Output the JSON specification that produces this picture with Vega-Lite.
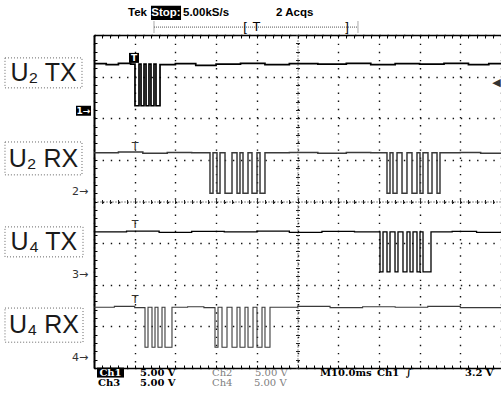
{
  "$schema": "https://vega.github.io/schema/vega-lite/v6.json",
  "width": 407,
  "height": 333,
  "autosize": {"type": "none"},
  "padding": {"left": 94, "top": 35, "right": 0, "bottom": 25},
  "background": "white",
  "config": {
    "view": {"stroke": null},
    "axis": {"labels": false, "title": null, "grid": false, "domain": false, "ticks": false}
  },
  "resolve": {"axis": {"x": "independent", "y": "independent"}},
  "datasets": {
    "traces": [
      {"ch": "U2 TX", "t": 0, "v": 3.31}, {"ch": "U2 TX", "t": 3, "v": 3.29}, {"ch": "U2 TX", "t": 6, "v": 3.32}, {"ch": "U2 TX", "t": 9, "v": 3.3},
      {"ch": "U2 TX", "t": 10.07, "v": 2.3}, {"ch": "U2 TX", "t": 11.06, "v": 3.3}, {"ch": "U2 TX", "t": 11.55, "v": 2.3}, {"ch": "U2 TX", "t": 12.29, "v": 3.3},
      {"ch": "U2 TX", "t": 12.78, "v": 2.3}, {"ch": "U2 TX", "t": 13.51, "v": 3.3}, {"ch": "U2 TX", "t": 14.0, "v": 2.3}, {"ch": "U2 TX", "t": 14.74, "v": 3.3},
      {"ch": "U2 TX", "t": 15.23, "v": 2.3}, {"ch": "U2 TX", "t": 16.22, "v": 3.29}, {"ch": "U2 TX", "t": 20, "v": 3.31}, {"ch": "U2 TX", "t": 25, "v": 3.27},
      {"ch": "U2 TX", "t": 30, "v": 3.3}, {"ch": "U2 TX", "t": 36, "v": 3.32}, {"ch": "U2 TX", "t": 42, "v": 3.29}, {"ch": "U2 TX", "t": 48, "v": 3.31},
      {"ch": "U2 TX", "t": 55, "v": 3.3}, {"ch": "U2 TX", "t": 62, "v": 3.32}, {"ch": "U2 TX", "t": 68, "v": 3.29}, {"ch": "U2 TX", "t": 74, "v": 3.31},
      {"ch": "U2 TX", "t": 80, "v": 3.3}, {"ch": "U2 TX", "t": 86, "v": 3.32}, {"ch": "U2 TX", "t": 92, "v": 3.29}, {"ch": "U2 TX", "t": 97, "v": 3.31}, {"ch": "U2 TX", "t": 100, "v": 3.3},

      {"ch": "U2 RX", "t": 0, "v": 1.17}, {"ch": "U2 RX", "t": 6, "v": 1.19}, {"ch": "U2 RX", "t": 12, "v": 1.16}, {"ch": "U2 RX", "t": 18, "v": 1.18}, {"ch": "U2 RX", "t": 24, "v": 1.17},
      {"ch": "U2 RX", "t": 28.5, "v": 0.2}, {"ch": "U2 RX", "t": 29.24, "v": 1.17}, {"ch": "U2 RX", "t": 30.22, "v": 0.2}, {"ch": "U2 RX", "t": 30.96, "v": 1.17},
      {"ch": "U2 RX", "t": 32.19, "v": 0.2}, {"ch": "U2 RX", "t": 33.91, "v": 1.17}, {"ch": "U2 RX", "t": 35.14, "v": 0.2}, {"ch": "U2 RX", "t": 35.87, "v": 1.17},
      {"ch": "U2 RX", "t": 36.61, "v": 0.2}, {"ch": "U2 RX", "t": 37.84, "v": 1.17}, {"ch": "U2 RX", "t": 38.82, "v": 0.2}, {"ch": "U2 RX", "t": 40.05, "v": 1.17},
      {"ch": "U2 RX", "t": 40.79, "v": 0.2}, {"ch": "U2 RX", "t": 42.01, "v": 1.17}, {"ch": "U2 RX", "t": 48, "v": 1.18}, {"ch": "U2 RX", "t": 55, "v": 1.16},
      {"ch": "U2 RX", "t": 62, "v": 1.18}, {"ch": "U2 RX", "t": 68, "v": 1.17}, {"ch": "U2 RX", "t": 71.99, "v": 0.2}, {"ch": "U2 RX", "t": 72.73, "v": 1.17},
      {"ch": "U2 RX", "t": 73.46, "v": 0.2}, {"ch": "U2 RX", "t": 74.45, "v": 1.17}, {"ch": "U2 RX", "t": 75.68, "v": 0.2}, {"ch": "U2 RX", "t": 76.9, "v": 1.17},
      {"ch": "U2 RX", "t": 78.13, "v": 0.2}, {"ch": "U2 RX", "t": 79.36, "v": 1.17}, {"ch": "U2 RX", "t": 80.1, "v": 0.2}, {"ch": "U2 RX", "t": 80.84, "v": 1.17},
      {"ch": "U2 RX", "t": 82.06, "v": 0.2}, {"ch": "U2 RX", "t": 83.05, "v": 1.17}, {"ch": "U2 RX", "t": 84.28, "v": 0.2}, {"ch": "U2 RX", "t": 85.01, "v": 1.17},
      {"ch": "U2 RX", "t": 90, "v": 1.18}, {"ch": "U2 RX", "t": 95, "v": 1.16}, {"ch": "U2 RX", "t": 100, "v": 1.17},

      {"ch": "U4 TX", "t": 0, "v": -0.73}, {"ch": "U4 TX", "t": 8, "v": -0.71}, {"ch": "U4 TX", "t": 16, "v": -0.74}, {"ch": "U4 TX", "t": 24, "v": -0.72},
      {"ch": "U4 TX", "t": 32, "v": -0.73}, {"ch": "U4 TX", "t": 40, "v": -0.71}, {"ch": "U4 TX", "t": 48, "v": -0.74}, {"ch": "U4 TX", "t": 56, "v": -0.72},
      {"ch": "U4 TX", "t": 64, "v": -0.73}, {"ch": "U4 TX", "t": 70.27, "v": -1.69}, {"ch": "U4 TX", "t": 71.01, "v": -0.73}, {"ch": "U4 TX", "t": 71.99, "v": -1.69},
      {"ch": "U4 TX", "t": 72.73, "v": -0.73}, {"ch": "U4 TX", "t": 73.96, "v": -1.69}, {"ch": "U4 TX", "t": 74.69, "v": -0.73}, {"ch": "U4 TX", "t": 75.92, "v": -1.69},
      {"ch": "U4 TX", "t": 76.9, "v": -0.73}, {"ch": "U4 TX", "t": 77.64, "v": -1.69}, {"ch": "U4 TX", "t": 78.38, "v": -0.73}, {"ch": "U4 TX", "t": 79.36, "v": -1.69},
      {"ch": "U4 TX", "t": 80.1, "v": -0.73}, {"ch": "U4 TX", "t": 80.84, "v": -1.69}, {"ch": "U4 TX", "t": 82.8, "v": -0.73}, {"ch": "U4 TX", "t": 88, "v": -0.72},
      {"ch": "U4 TX", "t": 94, "v": -0.74}, {"ch": "U4 TX", "t": 100, "v": -0.73},

      {"ch": "U4 RX", "t": 0, "v": -2.54}, {"ch": "U4 RX", "t": 5, "v": -2.52}, {"ch": "U4 RX", "t": 10, "v": -2.55}, {"ch": "U4 RX", "t": 12.53, "v": -3.5},
      {"ch": "U4 RX", "t": 13.27, "v": -2.54}, {"ch": "U4 RX", "t": 14.25, "v": -3.5}, {"ch": "U4 RX", "t": 14.99, "v": -2.54}, {"ch": "U4 RX", "t": 15.72, "v": -3.5},
      {"ch": "U4 RX", "t": 16.71, "v": -2.54}, {"ch": "U4 RX", "t": 17.44, "v": -3.5}, {"ch": "U4 RX", "t": 19.16, "v": -2.54}, {"ch": "U4 RX", "t": 23, "v": -2.53},
      {"ch": "U4 RX", "t": 27, "v": -2.55}, {"ch": "U4 RX", "t": 29.73, "v": -3.5}, {"ch": "U4 RX", "t": 30.47, "v": -2.54}, {"ch": "U4 RX", "t": 31.45, "v": -3.5},
      {"ch": "U4 RX", "t": 32.68, "v": -2.54}, {"ch": "U4 RX", "t": 33.91, "v": -3.5}, {"ch": "U4 RX", "t": 35.14, "v": -2.54}, {"ch": "U4 RX", "t": 35.87, "v": -3.5},
      {"ch": "U4 RX", "t": 37.1, "v": -2.54}, {"ch": "U4 RX", "t": 37.84, "v": -3.5}, {"ch": "U4 RX", "t": 39.07, "v": -2.54}, {"ch": "U4 RX", "t": 40.05, "v": -3.5},
      {"ch": "U4 RX", "t": 41.28, "v": -2.54}, {"ch": "U4 RX", "t": 42.01, "v": -3.5}, {"ch": "U4 RX", "t": 43.24, "v": -2.54}, {"ch": "U4 RX", "t": 50, "v": -2.52},
      {"ch": "U4 RX", "t": 58, "v": -2.55}, {"ch": "U4 RX", "t": 66, "v": -2.53}, {"ch": "U4 RX", "t": 74, "v": -2.54}, {"ch": "U4 RX", "t": 82, "v": -2.52},
      {"ch": "U4 RX", "t": 90, "v": -2.55}, {"ch": "U4 RX", "t": 100, "v": -2.54}
    ],
    "boxes": [
      {"t": -21.87, "t2": -2.95, "v": 3.45, "v2": 2.73},
      {"t": -21.87, "t2": -2.95, "v": 1.43, "v2": 0.64},
      {"t": -21.87, "t2": -2.7, "v": -0.61, "v2": -1.33},
      {"t": -21.87, "t2": -2.7, "v": -2.56, "v2": -3.38}
    ],
    "labels": [
      {"t": -12.4, "v": 3.09, "label": "U₂ TX"},
      {"t": -12.4, "v": 1.03, "label": "U₂ RX"},
      {"t": -12.3, "v": -0.97, "label": "U₄ TX"},
      {"t": -12.3, "v": -2.97, "label": "U₄ RX"}
    ],
    "inv": [
      {"t": -4.42, "t2": -0.74, "v": 2.3, "v2": 2.06},
      {"t": 8.6, "t2": 11.06, "v": 3.57, "v2": 3.33},
      {"t": 14.0, "t2": 21.38, "v": 4.7, "v2": 4.36},
      {"t": 0.74, "t2": 7.37, "v": -3.99, "v2": -4.23}
    ],
    "header": [
      {"t": 8.35, "v": 4.54, "label": "Tek"},
      {"t": 21.87, "v": 4.54, "label": "5.00kS/s"},
      {"t": 44.72, "v": 4.54, "label": "2 Acqs"}
    ],
    "headerInv": [
      {"t": 17.69, "v": 4.54, "label": "Stop:"}
    ],
    "bar": [
      {"t": 14.74, "t2": 64.86, "v": 4.19, "v2": 4.19},
      {"t": 14.74, "t2": 14.74, "v": 4.06, "v2": 4.33},
      {"t": 64.86, "t2": 64.86, "v": 4.06, "v2": 4.33}
    ],
    "barText": [
      {"t": 37.1, "v": 4.2, "label": "["},
      {"t": 39.93, "v": 4.2, "label": "T"},
      {"t": 62.16, "v": 4.2, "label": "]"}
    ],
    "footer": [
      {"t": 11.3, "v": -4.11, "label": "5.00 V"},
      {"t": 55.53, "v": -4.11, "label": "M10.0ms"},
      {"t": 69.53, "v": -4.11, "label": "Ch1"},
      {"t": 76.6, "v": -4.11, "label": "∫"},
      {"t": 91.15, "v": -4.11, "label": "3.2 V"},
      {"t": 0.98, "v": -4.35, "label": "Ch3"},
      {"t": 11.3, "v": -4.35, "label": "5.00 V"}
    ],
    "footerGray": [
      {"t": 29.0, "v": -4.11, "label": "Ch2"},
      {"t": 39.56, "v": -4.11, "label": "5.00 V"},
      {"t": 29.0, "v": -4.35, "label": "Ch4"},
      {"t": 39.3, "v": -4.35, "label": "5.00 V"}
    ],
    "footerInv": [
      {"t": 4.05, "v": -4.11, "label": "Ch1"}
    ],
    "markers": [
      {"t": -3.4, "v": 0.22, "label": "2→"},
      {"t": -3.4, "v": -1.77, "label": "3→"},
      {"t": -3.4, "v": -3.75, "label": "4→"},
      {"t": 10.07, "v": 1.31, "label": "T"},
      {"t": 10.07, "v": -0.56, "label": "T"},
      {"t": 10.07, "v": -2.37, "label": "T"},
      {"t": 98.9, "v": 2.84, "label": "◀"}
    ],
    "markersInv": [
      {"t": -2.58, "v": 2.18, "label": "1→"},
      {"t": 9.83, "v": 3.45, "label": "T"}
    ]
  },
  "layer": [
    {
      "data": {"name": "traces"},
      "mark": {"type": "line", "interpolate": "step-after"},
      "encoding": {
        "x": {"field": "t", "type": "quantitative", "scale": {"domain": [0, 100], "nice": false, "zero": false},
          "axis": {"orient": "bottom", "values": [0, 10, 20, 30, 40, 50, 60, 70, 80, 90, 100], "grid": true, "gridDash": [1.4, 6.74], "gridColor": "#111", "gridWidth": 1.4}},
        "y": {"field": "v", "type": "quantitative", "scale": {"domain": [-4, 4], "nice": false, "zero": false},
          "axis": {"orient": "left", "values": [-4, -3, -2, -1, 0, 1, 2, 3, 4], "grid": true, "gridDash": [1.4, 6.74], "gridColor": "#111", "gridWidth": 1.4}},
        "detail": {"field": "ch", "type": "nominal"},
        "color": {"field": "ch", "type": "nominal", "scale": {"domain": ["U2 TX", "U2 RX", "U4 TX", "U4 RX"], "range": ["#000000", "#3a3a3a", "#000000", "#3a3a3a"]}, "legend": null},
        "strokeWidth": {"field": "ch", "type": "ordinal", "scale": {"domain": ["U2 TX", "U2 RX", "U4 TX", "U4 RX"], "range": [1.7, 1.1, 1.7, 1.1]}, "legend": null}
      }
    },
    {
      "data": {"name": "boxes"},
      "mark": {"type": "rect", "fillOpacity": 0, "stroke": "#666666", "strokeDash": [1, 2], "strokeWidth": 1},
      "encoding": {
        "x": {"field": "t", "type": "quantitative", "scale": {"domain": [0, 100], "nice": false, "zero": false},
          "axis": {"orient": "bottom", "values": [0,2,4,6,8,10,12,14,16,18,20,22,24,26,28,30,32,34,36,38,40,42,44,46,48,50,52,54,56,58,60,62,64,66,68,70,72,74,76,78,80,82,84,86,88,90,92,94,96,98,100], "ticks": true, "tickSize": -3, "tickColor": "#000", "domain": true, "domainColor": "#000", "domainWidth": 1.5}},
        "x2": {"field": "t2"},
        "y": {"field": "v", "type": "quantitative", "scale": {"domain": [-4, 4], "nice": false, "zero": false},
          "axis": {"orient": "left", "values": [-4,-3.8,-3.6,-3.4,-3.2,-3,-2.8,-2.6,-2.4,-2.2,-2,-1.8,-1.6,-1.4,-1.2,-1,-0.8,-0.6,-0.4,-0.2,0,0.2,0.4,0.6,0.8,1,1.2,1.4,1.6,1.8,2,2.2,2.4,2.6,2.8,3,3.2,3.4,3.6,3.8,4], "ticks": true, "tickSize": -3, "tickColor": "#000", "domain": true, "domainColor": "#000", "domainWidth": 2}},
        "y2": {"field": "v2"}
      }
    },
    {
      "data": {"name": "labels"},
      "mark": {"type": "text", "font": "Liberation Sans", "fontSize": 25, "color": "#1a1a1a", "align": "center", "baseline": "middle"},
      "encoding": {
        "x": {"field": "t", "type": "quantitative", "scale": {"domain": [0, 100], "nice": false, "zero": false},
          "axis": {"orient": "top", "values": [0,2,4,6,8,10,12,14,16,18,20,22,24,26,28,30,32,34,36,38,40,42,44,46,48,50,52,54,56,58,60,62,64,66,68,70,72,74,76,78,80,82,84,86,88,90,92,94,96,98,100], "ticks": true, "tickSize": -3, "tickColor": "#000", "domain": true, "domainColor": "#000", "domainWidth": 1.5}},
        "y": {"field": "v", "type": "quantitative", "scale": {"domain": [-4, 4], "nice": false, "zero": false},
          "axis": {"orient": "left", "offset": -203.5, "values": [-4,-3.8,-3.6,-3.4,-3.2,-3,-2.8,-2.6,-2.4,-2.2,-2,-1.8,-1.6,-1.4,-1.2,-1,-0.8,-0.6,-0.4,-0.2,0,0.2,0.4,0.6,0.8,1,1.2,1.4,1.6,1.8,2,2.2,2.4,2.6,2.8,3,3.2,3.4,3.6,3.8,4], "ticks": true, "tickSize": 2, "tickColor": "#222", "domain": true, "domainDash": [1, 2], "domainColor": "#222"}},
        "text": {"field": "label"}
      }
    },
    {
      "data": {"name": "inv"},
      "mark": {"type": "rect", "color": "#000000"},
      "encoding": {
        "x": {"field": "t", "type": "quantitative", "scale": {"domain": [0, 100], "nice": false, "zero": false},
          "axis": {"orient": "bottom", "offset": -166.5, "values": [0,2,4,6,8,10,12,14,16,18,20,22,24,26,28,30,32,34,36,38,40,42,44,46,48,50,52,54,56,58,60,62,64,66,68,70,72,74,76,78,80,82,84,86,88,90,92,94,96,98,100], "ticks": true, "tickSize": 2, "tickColor": "#222", "domain": true, "domainDash": [1, 2], "domainColor": "#222"}},
        "x2": {"field": "t2"},
        "y": {"field": "v", "type": "quantitative", "scale": {"domain": [-4, 4], "nice": false, "zero": false},
          "axis": {"orient": "right", "offset": -203.5, "values": [-4,-3.8,-3.6,-3.4,-3.2,-3,-2.8,-2.6,-2.4,-2.2,-2,-1.8,-1.6,-1.4,-1.2,-1,-0.8,-0.6,-0.4,-0.2,0,0.2,0.4,0.6,0.8,1,1.2,1.4,1.6,1.8,2,2.2,2.4,2.6,2.8,3,3.2,3.4,3.6,3.8,4], "ticks": true, "tickSize": 2, "tickColor": "#222"}},
        "y2": {"field": "v2"}
      }
    },
    {
      "data": {"name": "header"},
      "mark": {"type": "text", "font": "Liberation Sans", "fontSize": 11.5, "fontWeight": "bold", "color": "#000", "align": "left", "baseline": "middle"},
      "encoding": {
        "x": {"field": "t", "type": "quantitative", "scale": {"domain": [0, 100], "nice": false, "zero": false},
          "axis": {"orient": "top", "offset": -166.5, "values": [0,2,4,6,8,10,12,14,16,18,20,22,24,26,28,30,32,34,36,38,40,42,44,46,48,50,52,54,56,58,60,62,64,66,68,70,72,74,76,78,80,82,84,86,88,90,92,94,96,98,100], "ticks": true, "tickSize": 2, "tickColor": "#222"}},
        "y": {"field": "v", "type": "quantitative", "scale": {"domain": [-4, 4], "nice": false, "zero": false}, "axis": null},
        "text": {"field": "label"}
      }
    },
    {
      "data": {"name": "headerInv"},
      "mark": {"type": "text", "font": "Liberation Sans", "fontSize": 11.5, "fontWeight": "bold", "color": "#ffffff", "align": "center", "baseline": "middle"},
      "encoding": {
        "x": {"field": "t", "type": "quantitative", "scale": {"domain": [0, 100], "nice": false, "zero": false}, "axis": null},
        "y": {"field": "v", "type": "quantitative", "scale": {"domain": [-4, 4], "nice": false, "zero": false}, "axis": null},
        "text": {"field": "label"}
      }
    },
    {
      "data": {"name": "bar"},
      "mark": {"type": "rule", "color": "#555555", "strokeDash": [1, 1], "strokeWidth": 1},
      "encoding": {
        "x": {"field": "t", "type": "quantitative", "scale": {"domain": [0, 100], "nice": false, "zero": false}, "axis": null},
        "x2": {"field": "t2"},
        "y": {"field": "v", "type": "quantitative", "scale": {"domain": [-4, 4], "nice": false, "zero": false}, "axis": null},
        "y2": {"field": "v2"}
      }
    },
    {
      "data": {"name": "barText"},
      "mark": {"type": "text", "font": "Liberation Sans", "fontSize": 13, "color": "#000", "align": "center", "baseline": "middle"},
      "encoding": {
        "x": {"field": "t", "type": "quantitative", "scale": {"domain": [0, 100], "nice": false, "zero": false}, "axis": null},
        "y": {"field": "v", "type": "quantitative", "scale": {"domain": [-4, 4], "nice": false, "zero": false}, "axis": null},
        "text": {"field": "label"}
      }
    },
    {
      "data": {"name": "footer"},
      "mark": {"type": "text", "font": "DejaVu Serif", "fontSize": 10, "fontWeight": "bold", "color": "#000", "align": "left", "baseline": "middle"},
      "encoding": {
        "x": {"field": "t", "type": "quantitative", "scale": {"domain": [0, 100], "nice": false, "zero": false}, "axis": null},
        "y": {"field": "v", "type": "quantitative", "scale": {"domain": [-4, 4], "nice": false, "zero": false}, "axis": null},
        "text": {"field": "label"}
      }
    },
    {
      "data": {"name": "footerGray"},
      "mark": {"type": "text", "font": "DejaVu Serif", "fontSize": 10, "color": "#808080", "align": "left", "baseline": "middle"},
      "encoding": {
        "x": {"field": "t", "type": "quantitative", "scale": {"domain": [0, 100], "nice": false, "zero": false}, "axis": null},
        "y": {"field": "v", "type": "quantitative", "scale": {"domain": [-4, 4], "nice": false, "zero": false}, "axis": null},
        "text": {"field": "label"}
      }
    },
    {
      "data": {"name": "footerInv"},
      "mark": {"type": "text", "font": "DejaVu Serif", "fontSize": 10, "fontWeight": "bold", "color": "#ffffff", "align": "center", "baseline": "middle"},
      "encoding": {
        "x": {"field": "t", "type": "quantitative", "scale": {"domain": [0, 100], "nice": false, "zero": false}, "axis": null},
        "y": {"field": "v", "type": "quantitative", "scale": {"domain": [-4, 4], "nice": false, "zero": false}, "axis": null},
        "text": {"field": "label"}
      }
    },
    {
      "data": {"name": "markers"},
      "mark": {"type": "text", "font": "DejaVu Sans", "fontSize": 11, "color": "#333333", "align": "center", "baseline": "middle"},
      "encoding": {
        "x": {"field": "t", "type": "quantitative", "scale": {"domain": [0, 100], "nice": false, "zero": false}, "axis": null},
        "y": {"field": "v", "type": "quantitative", "scale": {"domain": [-4, 4], "nice": false, "zero": false}, "axis": null},
        "text": {"field": "label"}
      }
    },
    {
      "data": {"name": "markersInv"},
      "mark": {"type": "text", "font": "DejaVu Sans", "fontSize": 9, "fontWeight": "bold", "color": "#ffffff", "align": "center", "baseline": "middle"},
      "encoding": {
        "x": {"field": "t", "type": "quantitative", "scale": {"domain": [0, 100], "nice": false, "zero": false}, "axis": null},
        "y": {"field": "v", "type": "quantitative", "scale": {"domain": [-4, 4], "nice": false, "zero": false}, "axis": null},
        "text": {"field": "label"}
      }
    }
  ]
}
